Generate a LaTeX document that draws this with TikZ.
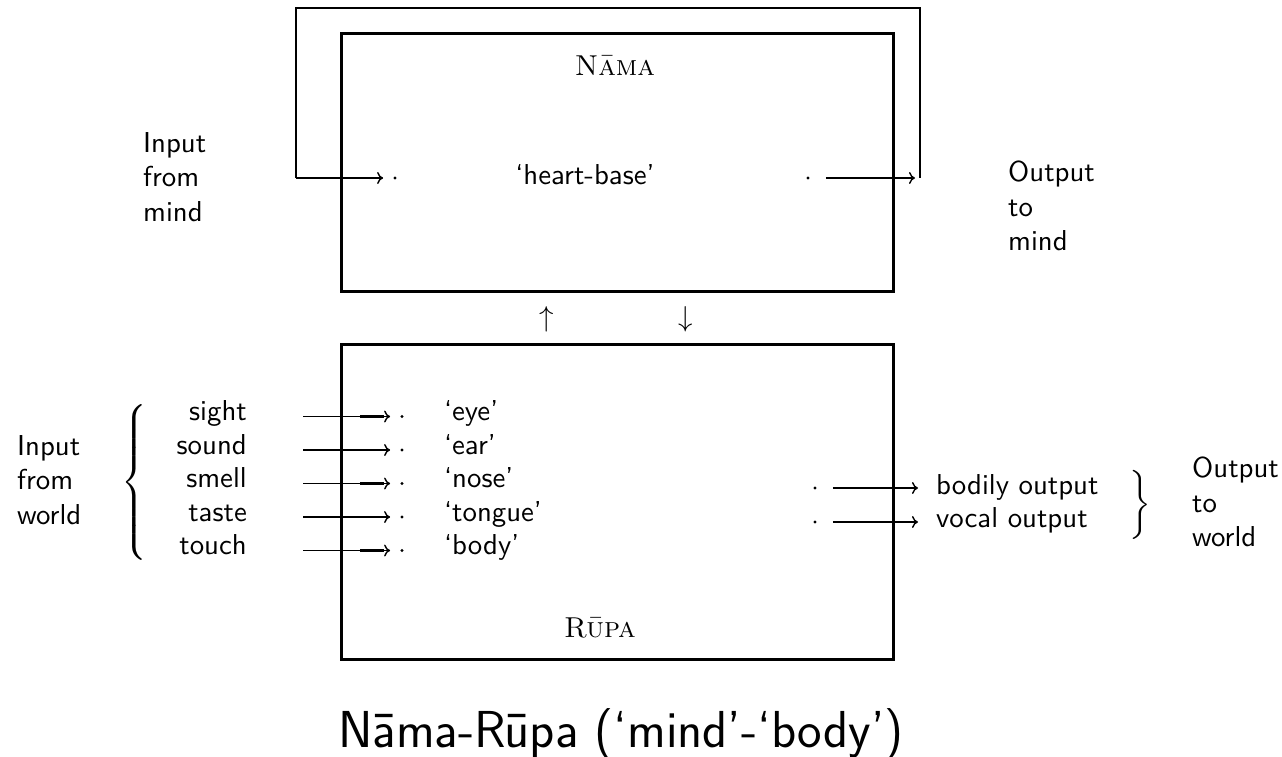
\RequirePackage{fix-cm}
\documentclass[tikz,border=0pt]{standalone}
\usepackage{fontspec}
\usepackage{graphicx}
\setsansfont{lmsans10-regular.otf}
\newfontfamily\titlefont{lmsans17-regular.otf}
\usetikzlibrary{arrows.meta}
\newcommand{\bigsz}{\fontsize{28.8}{34.56}\selectfont}
\tikzset{
 lab/.style={font=\sffamily\bigsz, inner sep=0pt},
 multilab/.style={lab, align=left, anchor=north west},
 scname/.style={font=\rmfamily\scshape\bigsz, inner sep=0pt, anchor=base},
 box/.style={draw, line width=2.6pt, inner sep=0pt, anchor=north west},
 conn/.style={line width=1.4pt, -{Rectangle[length=24pt,width=2.8pt]To[length=6pt,width=12pt]}},
 dot/.style={circle, fill, inner sep=0pt, minimum size=3.4pt},
 loopline/.style={line width=2.6pt},
 bracenode/.style={inner sep=0pt}
}
\begin{document}
\begin{tikzpicture}[x=1pt,y=-1pt]
\useasboundingbox (0,0) rectangle (1282,756);
% boxes
\node[box, minimum width=552pt, minimum height=258pt] (nama) at (340,32) {};
\node[box, minimum width=552pt, minimum height=315pt] (rupa) at (340,343) {};
\node[scname] (namat) at (615,75) {Nāma};
\node[scname] (rupat) at (600,637) {Rūpa};
% top part
\node[lab, anchor=base] (hb) at (585,184) {‘heart-base’};
\node[dot] (hin) at (395,178) {};
\node[dot] (hout) at (808,178) {};
\coordinate (iL) at (296,178);
\coordinate (oR) at (920,178);
\coordinate (ltop) at (296,8);
\draw[loopline] (iL) -- (ltop) -| (oR);
\draw[conn, shorten >=10pt] (iL) -- (hin);
\draw[conn, shorten <=16pt, shorten >=5pt] (hout) -- (oR);
\node[multilab] (inmind) at (143,132) {Input\\from\\mind};
\node[multilab] (outmind) at (1008,161) {Output\\to\\mind};
% between boxes
\node[lab] (up) at (547,319) {$\uparrow$};
\node[lab] (down) at (686,319) {$\downarrow$};
% senses
\foreach \sn/\on [count=\k] in {sight/eye,sound/ear,smell/nose,taste/tongue,touch/body}{
  \pgfmathsetmacro\yy{416.5+(\k-1)*33.5}
  \node[lab, anchor=base east] (s\k) at (247,\yy+4) {\sn};
  \coordinate (a\k) at (303,\yy);
  \node[dot] (d\k) at (402,\yy) {};
  \draw[conn, shorten >=10pt] (a\k) -- (d\k);
  \node[lab, anchor=base west] (o\k) at (444,\yy+4) {‘\on’};
}
\node[bracenode] (lbr) at (136,482.5) {\scalebox{2.88}{$\left\{\vrule height 31pt depth 26pt width 0pt\right.$}};
\node[multilab] (inworld) at (17,435) {Input\\from\\world};
% outputs
\node[dot] (bo) at (815,488) {};
\node[dot] (vo) at (815,522) {};
\coordinate (boe) at (918,488);
\coordinate (voe) at (918,522);
\draw[conn, shorten <=16pt] (bo) -- (boe);
\draw[conn, shorten <=16pt] (vo) -- (voe);
\node[lab, anchor=base west] (bot) at (936,494) {bodily output};
\node[lab, anchor=base west] (vot) at (936,527.5) {vocal output};
\node[bracenode] (rbr) at (1139,505) {\scalebox{2.88}{$\left.\vrule height 12.7pt depth 7.7pt width 0pt\right\}$}};
\node[multilab] (outworld) at (1192,457) {Output\\to\\world};
% title
\node[inner sep=0pt, font=\titlefont\fontsize{52}{62}\selectfont, anchor=base] (title) at (621,747) {Nāma-Rūpa (‘mind’-‘body’)};
\end{tikzpicture}
\end{document}
